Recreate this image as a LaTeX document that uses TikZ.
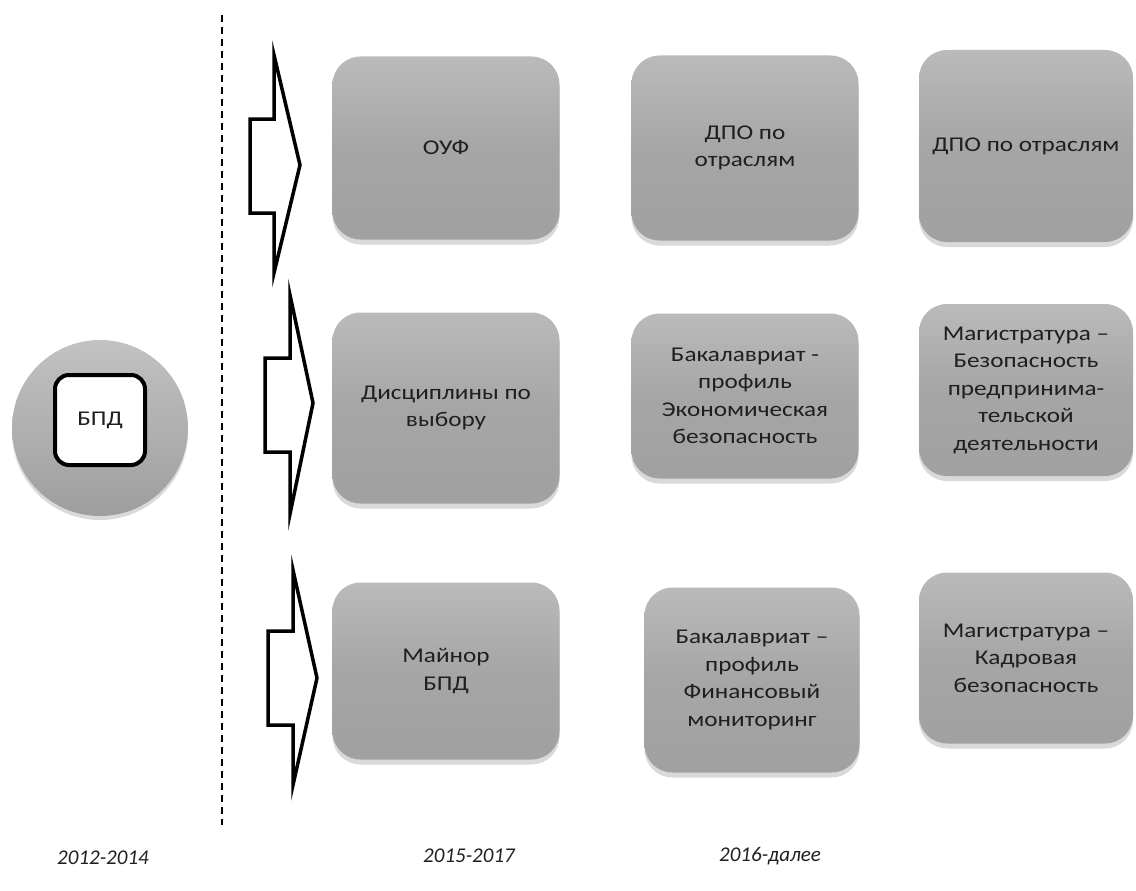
\documentclass[tikz,border=0pt]{standalone}
\usepackage{fontspec}
\setmainfont{Carlito}[FakeStretch=1.2]
\newfontfamily\yrfont{Carlito}
\usetikzlibrary{shadows}

\begin{document}
\begin{tikzpicture}[x=1pt,y=-1pt,
    box/.style={rounded corners=28pt, top color=black!27, bottom color=black!37, middle color=black!35,
      text=black!88, align=center, inner sep=0pt, font=\fontsize{21}{27.5}\selectfont,
      drop shadow={shadow xshift=0pt,shadow yshift=-5pt,opacity=.3}},
    yr/.style={font=\yrfont\fontsize{21}{24}\selectfont\itshape, text=black!88},
    barrow/.style={draw=black, line width=3.5pt, fill=white}]
  \useasboundingbox (0,0) rectangle (1136,891);

  \node [circle, minimum size=176pt, top color=black!24, bottom color=black!38,
    drop shadow={shadow xshift=0pt,shadow yshift=-4pt,opacity=.3}] (c) at (100,428) {};
  \node [draw, line width=4pt, rounded corners=14pt, fill=white, minimum size=90pt,
    font=\fontsize{21}{24}\selectfont, text=black!88] (bpd) at (100,420) {БПД};

  \coordinate (dtop) at (222,15);
  \coordinate (dbot) at (222,825);
  \draw [line width=1.5pt, dash pattern=on 7pt off 5pt] (dtop) -- (dbot);

  \draw [barrow] (250,119) -- (274,119) -- (274,55) -- (300,165) -- (274,273) -- (274,213) -- (250,213) -- cycle;
  \draw [barrow] (265,358) -- (290,358) -- (290,295) -- (313,403) -- (290,514) -- (290,452) -- (265,452) -- cycle;
  \draw [barrow] (268,631) -- (293,631) -- (293,570) -- (317,678) -- (293,785) -- (293,725) -- (268,725) -- cycle;

  \node [box, minimum width=227pt, minimum height=183pt] (b11) at (446,148) {ОУФ};
  \node [box, minimum width=227pt, minimum height=185pt] (b12) at (745,148) {ДПО по\\отраслям};
  \node [box, minimum width=214pt, minimum height=192pt] (b13) at (1026,146) {ДПО по отраслям};

  \node [box, minimum width=227pt, minimum height=191pt] (b21) at (446,408) {Дисциплины по\\выбору};
  \node [box, minimum width=227pt, minimum height=165pt] (b22) at (745,396) {Бакалавриат -\\профиль\\Экономическая\\безопасность};
  \node [box, minimum width=214pt, minimum height=172pt] (b23) at (1026,390) {Магистратура –\\Безопасность\\предпринима-\\тельской\\деятельности};

  \node [box, minimum width=227pt, minimum height=177pt] (b31) at (446,671) {Майнор\\БПД};
  \node [box, minimum width=215pt, minimum height=185pt] (b32) at (752,680) {Бакалавриат –\\профиль\\Финансовый\\мониторинг};
  \node [box, minimum width=214pt, minimum height=171pt] (b33) at (1026,658) {Магистратура –\\Кадровая\\безопасность};

  \node [yr] (t1) at (103,858) {2012-2014};
  \node [yr] (t2) at (469,856) {2015-2017};
  \node [yr] (t3) at (770,856) {2016-далее};
\end{tikzpicture}
\end{document}
